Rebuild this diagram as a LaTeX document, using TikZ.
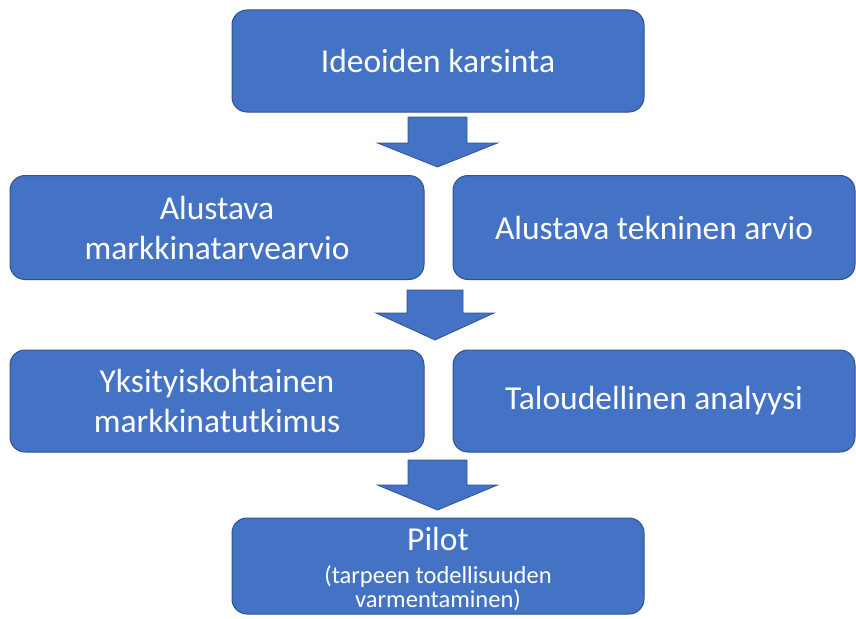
\documentclass[tikz,border=0pt]{standalone}
\usepackage{fontspec}
\setmainfont{Carlito}
\definecolor{boxfill}{HTML}{4472C4}
\definecolor{boxline}{HTML}{2F528F}
\tikzset{
  box/.style={draw=boxline, fill=boxfill, line width=1pt, rounded corners=15pt,
    text=white, align=center, inner sep=0pt, font=\fontsize{33.5}{40}\selectfont},
  blockarr/.style={draw=boxline, fill=boxfill, line width=0.8pt, line join=miter},
  smalltext/.style={text=white, align=center, inner sep=0pt, font=\fontsize{24.5}{25}\selectfont}
}
\newcommand{\downblock}[6]{% cx, top, headbase, tip, shafthalf, headhalf
  \draw[blockarr] (#1-#5,#2) -- (#1+#5,#2) -- (#1+#5,#3) -- (#1+#6,#3) -- (#1,#4)
    -- (#1-#6,#3) -- (#1-#5,#3) -- cycle;}
\begin{document}
\begin{tikzpicture}[x=1pt,y=-1pt]
\useasboundingbox (0,0) rectangle (856,618);
\node[box, minimum width=412pt, minimum height=102pt] (b1) at (438,61) {Ideoiden karsinta};
\node[box, minimum width=414pt, minimum height=104pt] (b2l) at (217,227.5) {Alustava\\markkinatarvearvio};
\node[box, minimum width=402pt, minimum height=104pt] (b2r) at (654,227.5) {Alustava tekninen arvio};
\node[box, minimum width=414pt, minimum height=102pt] (b3l) at (217,401) {Yksityiskohtainen\\markkinatutkimus};
\node[box, minimum width=402pt, minimum height=102pt] (b3r) at (654,401) {Taloudellinen analyysi};
\node[box, minimum width=412pt, minimum height=96pt] (b4) at (438,566) {};
\node[box, draw=none, fill=none, anchor=base] (b4t) at (438,550) {Pilot};
\node[smalltext, anchor=base] (b4s) at (438,583) {(tarpeen todellisuuden};
\node[smalltext, anchor=base] (b4u) at (438,607) {varmentaminen)};
\downblock{437.5}{117}{143}{167}{29.5}{60}
\downblock{435}{290}{313}{340}{28}{59}
\downblock{437.5}{460}{485}{510}{29.5}{60}
\end{tikzpicture}
\end{document}
